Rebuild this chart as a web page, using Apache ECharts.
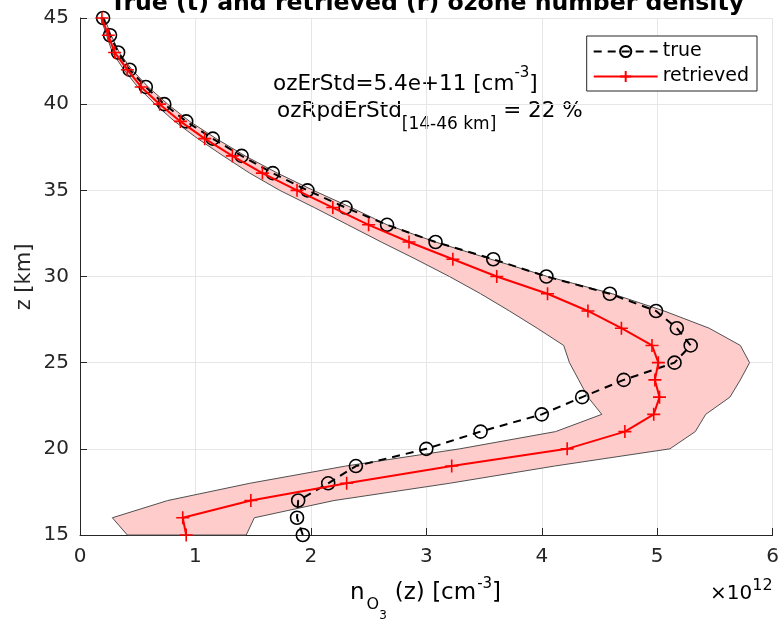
<!DOCTYPE html>
<html>
<head>
<meta charset="utf-8">
<script src="https://cdn.jsdelivr.net/npm/echarts@6/dist/echarts.min.js"></script>
<style>
html,body{margin:0;padding:0;background:#fff;}
#chart{width:782px;height:623px;}
</style>
</head>
<body>
<div id="chart"></div>
<script>
// altitude levels [km]
const altitudes = [15,16,17,18,19,20,21,22,23,24,25,26,27,28,29,30,31,32,33,34,35,36,37,38,39,40,41,42,43,44,45];
// ozone number density, units of 1e12 cm^-3
const trueDensity = [1.93,1.88,1.89,2.15,2.39,3.00,3.47,4.00,4.35,4.71,5.15,5.29,5.17,4.99,4.59,4.04,3.58,3.08,2.66,2.30,1.97,1.67,1.40,1.15,0.92,0.73,0.57,0.43,0.33,0.26,0.20];
const retrievedDensity = [0.92,0.89,1.48,2.31,3.22,4.22,4.72,4.97,5.02,4.98,5.01,4.955,4.69,4.40,4.05,3.61,3.23,2.85,2.50,2.19,1.88,1.58,1.32,1.08,0.87,0.69,0.53,0.41,0.30,0.245,0.19];
// error band bounds (retrieved -/+ error), units of 1e12 cm^-3
const bandLower = [0.41,0.28,0.76,1.47,2.30,3.29,4.12,4.52,4.40,4.32,4.24,4.19,3.96,3.72,3.47,3.20,2.91,2.61,2.32,2.03,1.73,1.47,1.24,1.02,0.82,0.65,0.50,0.38,0.28,0.23,0.18];
const bandUpper = [1.44,1.51,2.20,3.20,4.11,5.11,5.33,5.42,5.63,5.72,5.80,5.72,5.45,5.06,4.61,4.05,3.56,3.08,2.66,2.35,2.02,1.71,1.43,1.18,0.95,0.76,0.59,0.45,0.34,0.27,0.21];
const xTicks = [0,1,2,3,4,5,6];
const yTicks = [15,20,25,30,35,40,45];

const FONT = 'DejaVu Sans';
const AX = '#262626';
const chart = echarts.init(document.getElementById('chart'), null, {renderer:'canvas'});

const trueData = altitudes.map((z,i)=>[trueDensity[i], z]);
const retData = altitudes.map((z,i)=>[retrievedDensity[i], z]);
const bandData = altitudes.map((z,i)=>[bandLower[i], z, bandUpper[i]]);

const plusPath = 'path://M5,0L5,10M0,5L10,5';

const option = {
  animation:false,
  backgroundColor:'#fff',
  grid:{left:80,right:8,top:18,bottom:88,containLabel:false},
  xAxis:{
    type:'value',min:xTicks[0],max:xTicks[xTicks.length-1],interval:1,
    axisLine:{show:true,onZero:false,lineStyle:{color:AX,width:1}},
    axisTick:{show:true,inside:true,length:7,lineStyle:{color:AX}},
    axisLabel:{fontFamily:FONT,fontSize:20,color:AX,margin:12},
    splitLine:{show:true,lineStyle:{color:'#e6e6e6',width:1}}
  },
  yAxis:{
    type:'value',min:yTicks[0],max:yTicks[yTicks.length-1],interval:5,
    axisLine:{show:true,onZero:false,lineStyle:{color:AX,width:1}},
    axisTick:{show:true,inside:true,length:7,lineStyle:{color:AX}},
    axisLabel:{fontFamily:FONT,fontSize:20,color:AX,margin:11},
    splitLine:{show:true,lineStyle:{color:'#e6e6e6',width:1}}
  },
  legend:{
    orient:'vertical',right:25,top:36,
    data:['true','retrieved'],
    backgroundColor:'#fff',borderColor:AX,borderWidth:1,borderRadius:0,
    padding:[6,8,5,6],
    itemWidth:64,itemHeight:14,itemGap:6,
    textStyle:{fontFamily:FONT,fontSize:19,color:'#000'}
  },
  series:[
    {
      type:'custom',name:'band',silent:true,z:1,
      data:bandData,
      encode:{x:[0,2],y:1},
      renderItem:function(params,api){
        if(params.dataIndex!==0) return null;
        const pts=[];
        for(let i=0;i<altitudes.length;i++) pts.push(api.coord([bandLower[i],altitudes[i]]));
        for(let i=altitudes.length-1;i>=0;i--) pts.push(api.coord([bandUpper[i],altitudes[i]]));
        return {type:'polygon',shape:{points:pts},style:{fill:'#ffcccc',stroke:'#505050',lineWidth:1}};
      }
    },
    {
      type:'line',name:'true',z:3,data:trueData,
      symbol:'circle',symbolSize:13,
      lineStyle:{color:'#000',width:2,type:[8,6]},
      itemStyle:{color:'rgba(0,0,0,0)',borderColor:'#000',borderWidth:1.6}
    },
    {
      type:'line',name:'retrieved',z:4,data:retData,
      symbol:plusPath,symbolSize:13,
      lineStyle:{color:'#ff0000',width:2},
      itemStyle:{color:'rgba(0,0,0,0)',borderColor:'#ff0000',borderWidth:1.6}
    }
  ],
  graphic:[
    {type:'text',x:427,y:-8,style:{text:'True (t) and retrieved (r) ozone number density',font:'bold 23.6px '+FONT,fill:'#000',textAlign:'center',textVerticalAlign:'top'}},
    {type:'text',x:273,y:50,style:{text:'{m|ozErStd=5.4e+11 [cm}{s|-3}{m|]}',textAlign:'left',textVerticalAlign:'top',
      rich:{m:{fontFamily:FONT,fontSize:21.5,verticalAlign:'top',padding:[23,0,0,0],color:'#000'},
            s:{fontFamily:FONT,fontSize:15,verticalAlign:'top',padding:[16,0,0,0],color:'#000'}}}},
    {type:'text',x:277,y:80,style:{text:'{m|ozRpdErStd}{b|[14-46 km]}{m| = 22 %}',textAlign:'left',textVerticalAlign:'top',
      rich:{m:{fontFamily:FONT,fontSize:21.5,verticalAlign:'top',padding:[20,0,0,0],color:'#000'},
            b:{fontFamily:FONT,fontSize:17,verticalAlign:'top',padding:[36,0,0,0],color:'#000'}}}},
    {type:'text',x:350,y:560,style:{text:'{m|n}{o|O}{t|3}{p|(z) [cm}{s|-3}{m|]}',textAlign:'left',textVerticalAlign:'top',
      rich:{m:{fontFamily:FONT,fontSize:23,verticalAlign:'top',padding:[21.6,0,0,0],color:AX},
            p:{fontFamily:FONT,fontSize:23,verticalAlign:'top',padding:[21.6,0,0,8],color:AX},
            o:{fontFamily:FONT,fontSize:16,verticalAlign:'top',padding:[37,0,0,2],color:AX},
            t:{fontFamily:FONT,fontSize:12,verticalAlign:'top',padding:[50,0,0,0],color:AX},
            s:{fontFamily:FONT,fontSize:15,verticalAlign:'top',padding:[17,0,0,1],color:AX}}}},
    {type:'text',x:710,y:560,style:{text:'{m|×10}{s|12}',textAlign:'left',textVerticalAlign:'top',
      rich:{m:{fontFamily:FONT,fontSize:20,verticalAlign:'top',padding:[24,0,0,0],color:AX},
            s:{fontFamily:FONT,fontSize:16,verticalAlign:'top',padding:[18,0,0,0],color:AX}}}},
    {type:'text',x:25,y:277,rotation:Math.PI/2,style:{text:'z [km]',font:'21px '+FONT,fill:AX,textAlign:'center',textVerticalAlign:'middle'}}
  ]
};
chart.setOption(option);
</script>
</body>
</html>
